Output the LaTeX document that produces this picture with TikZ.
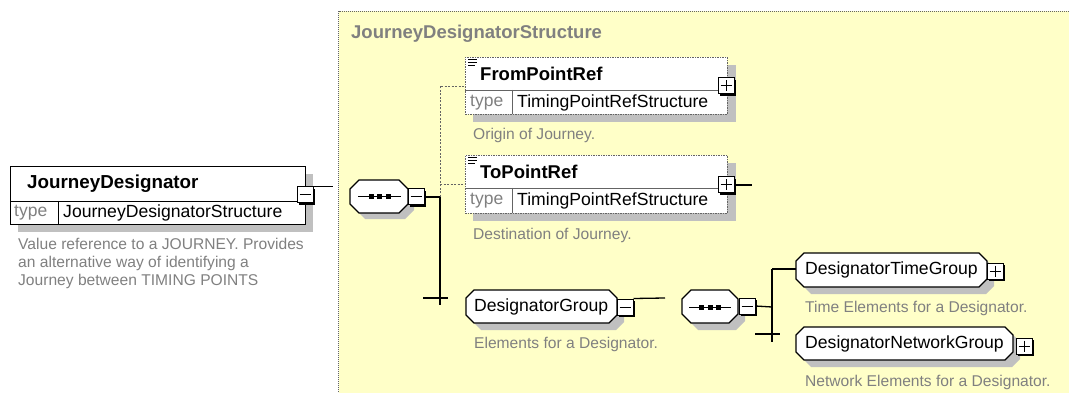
\documentclass[tikz,border=0pt]{standalone}
\usepackage{fontspec}
\setmainfont{Liberation Sans}
\definecolor{bgy}{RGB}{255,255,200}
\definecolor{shd}{RGB}{192,192,192}
\definecolor{dsc}{RGB}{128,128,128}
\definecolor{dbd}{RGB}{100,100,100}
\tikzset{
  desc/.style={anchor=west, inner sep=0, text=dsc, font=\fontsize{15.6}{18}\selectfont, align=left},
  lbl/.style={anchor=west, inner sep=0, font=\fontsize{17.6}{20}\selectfont},
  bld/.style={anchor=west, inner sep=0, font=\fontsize{18.5}{20}\selectfont\bfseries},
  typ/.style={anchor=west, inner sep=0, text=dsc, font=\fontsize{17.5}{20}\selectfont},
  conn/.style={line width=1.3pt},
  optconn/.style={line width=0.7pt, dash pattern=on 2pt off 1.5pt, draw=dbd},
  elbox/.style={draw, line width=1.2pt, fill=white, inner sep=0, anchor=north west},
  optbox/.style={draw=dbd, line width=0.8pt, dash pattern=on 1.5pt off 1pt, fill=white, inner sep=0, anchor=north west},
  pmbox/.style={draw, fill=white, minimum size=16pt, inner sep=0, line width=1pt},
}
\newcommand{\octo}[6]{\path[#6] (#1+#5,#2) -- (#3-#5,#2) -- (#3,#2+#5) -- (#3,#4-#5) -- (#3-#5,#4) -- (#1+#5,#4) -- (#1,#4-#5) -- (#1,#2+#5) -- cycle;}
\newcommand{\pmb}[4]{%
  \fill (#2+2,#3+2) rectangle (#2+18,#3+18);
  \node[pmbox] (#1) at (#2+8,#3+8) {};
  \draw[line width=1pt] (#2+2.5,#3+8) -- (#2+13.5,#3+8);
  \ifnum#4=1 \draw[line width=1pt] (#2+8,#3+2.5) -- (#2+8,#3+13.5);\fi
}
\newcommand{\seqicon}[3]{%
  \draw[line width=1pt] (#1,#3) -- (#2,#3);
  \fill ({(#1+#2)/2-11},#3-2.5) rectangle +(5,5);
  \fill ({(#1+#2)/2-2.5},#3-2.5) rectangle +(5,5);
  \fill ({(#1+#2)/2+6},#3-2.5) rectangle +(5,5);
}
\newcommand{\menuicon}[2]{%
  \draw[line width=0.9pt] (#1,#2) -- +(9,0) (#1,#2+3) -- +(9,0) (#1,#2+6) -- +(7,0);
}
\begin{document}
\begin{tikzpicture}[x=1pt,y=-1pt]
\useasboundingbox (0,0) rectangle (1069,393);
% panel
\fill[bgy] (338.5,11) rectangle (1069,393);
\draw[dbd, line width=0.6pt, dash pattern=on 1pt off 1pt] (1069,11) -- (338.5,11) -- (338.5,393);
\node[bld, text=dsc, font=\fontsize{18.5}{20}\selectfont\bfseries] (title) at (351,34) {JourneyDesignatorStructure};

% ---------- JourneyDesignator
\fill[shd] (18,174) rectangle (313,232);
\node[elbox, minimum width=295pt, minimum height=58pt] (jd) at (10,166) {};
\draw[line width=0.8pt] (10,201) -- (305,201) (58,201) -- (58,224);
\node[bld, font=\fontsize{18.8}{20}\selectfont\bfseries] (jdname) at (27,184) {JourneyDesignator};
\node[typ] (jdtype) at (14,213) {type};
\node[lbl] (jdval) at (63,213) {JourneyDesignatorStructure};
\pmb{jdm}{297}{187}{0}
\coordinate (jdend) at (333,188);
\draw[conn] (jdm.north east) -- (jdm.north east -| jdend);
\node[desc] (jddesc) at (18,263) {Value reference to a JOURNEY. Provides\\an alternative way of identifying a\\Journey between TIMING POINTS};

% ---------- sequence 1
\octo{356}{186}{414}{219}{9}{fill=shd}
\octo{350}{180}{408}{213}{9}{draw, line width=1.2pt, fill=white}
\seqicon{358}{401}{196.5}
\pmb{s1m}{408}{189}{0}
\coordinate (s1bus) at (440,197);
\coordinate (s1bot) at (440,305);
\draw[conn] (s1m.east) -- (s1bus) -- (s1bot);
\coordinate (s1tl) at (423,298);
\coordinate (s1tr) at (448,298);
\draw[conn] (s1tl) -- (s1tr);

% ---------- FromPointRef
\fill[shd] (473,65) rectangle (736,122);
\node[optbox, minimum width=262pt, minimum height=57pt] (from) at (465,57) {};
\draw[dbd, line width=0.6pt] (465,90) -- (727,90) (512,90) -- (512,114);
\menuicon{468}{59}
\node[bld] (fromname) at (480,74) {FromPointRef};
\node[typ] (fromtype) at (470,103) {type};
\node[lbl] (fromval) at (517,103) {TimingPointRefStructure};
\pmb{fromp}{718}{78}{1}
\node[desc] (fromdesc) at (473,135) {Origin of Journey.};
\coordinate (fromin) at (465,86);
\draw[optconn] (s1bus) -- (s1bus |- fromin) -- (fromin);

% ---------- ToPointRef
\fill[shd] (473,163) rectangle (736,221);
\node[optbox, minimum width=262pt, minimum height=58pt] (to) at (465,155) {};
\draw[dbd, line width=0.6pt] (465,188) -- (727,188) (512,188) -- (512,213);
\menuicon{468}{157}
\node[bld] (toname) at (480,172) {ToPointRef};
\node[typ] (totype) at (470,201) {type};
\node[lbl] (toval) at (517,201) {TimingPointRefStructure};
\pmb{top}{718}{177}{1}
\coordinate (toend) at (752,185);
\draw[conn] (top.east |- toend) -- (toend);
\node[desc] (todesc) at (473,235) {Destination of Journey.};
\coordinate (toin) at (465,184);
\draw[optconn] (s1bus |- toin) -- (toin);

% ---------- DesignatorGroup
\octo{473}{297}{624}{330}{8}{fill=shd}
\octo{466}{290}{617}{323}{8}{draw, line width=1.2pt, fill=white}
\node[lbl] (dgname) at (474,306.5) {DesignatorGroup};
\pmb{dgm}{617}{299}{0}
\coordinate (dgend) at (665,298);
\draw[conn] (dgm.north east) -- (dgend);
\node[desc] (dgdesc) at (474,344) {Elements for a Designator.};

% ---------- sequence 2
\octo{689}{297}{745}{330}{9}{fill=shd}
\octo{682}{290}{738}{323}{9}{draw, line width=1.2pt, fill=white}
\seqicon{689}{731}{307}
\pmb{s2m}{739}{298}{0}
\coordinate (s2bus) at (772,307);
\coordinate (s2top) at (772,269);
\coordinate (s2bot) at (772,342);
\draw[conn] (s2m.east) -- (s2bus);
\draw[conn] (s2top) -- (s2bot);
\coordinate (s2tl) at (755,334);
\coordinate (s2tr) at (780,334);
\draw[conn] (s2tl) -- (s2tr);

% ---------- DesignatorTimeGroup
\octo{803}{260}{994}{294}{8}{fill=shd}
\octo{796}{253}{987}{287}{8}{draw, line width=1.2pt, fill=white}
\node[lbl] (dtname) at (805,270) {DesignatorTimeGroup};
\pmb{dtp}{987}{263}{1}
\coordinate (dtin) at (796,269);
\draw[conn] (s2top) -- (dtin);
\node[desc] (dtdesc) at (805,308) {Time Elements for a Designator.};

% ---------- DesignatorNetworkGroup
\octo{803}{334}{1020}{367}{8}{fill=shd}
\octo{796}{327}{1013}{360}{8}{draw, line width=1.2pt, fill=white}
\node[lbl] (dnname) at (805,343.5) {DesignatorNetworkGroup};
\pmb{dnp}{1016}{338}{1}
\node[desc] (dndesc) at (805,382) {Network Elements for a Designator.};
\end{tikzpicture}
\end{document}
